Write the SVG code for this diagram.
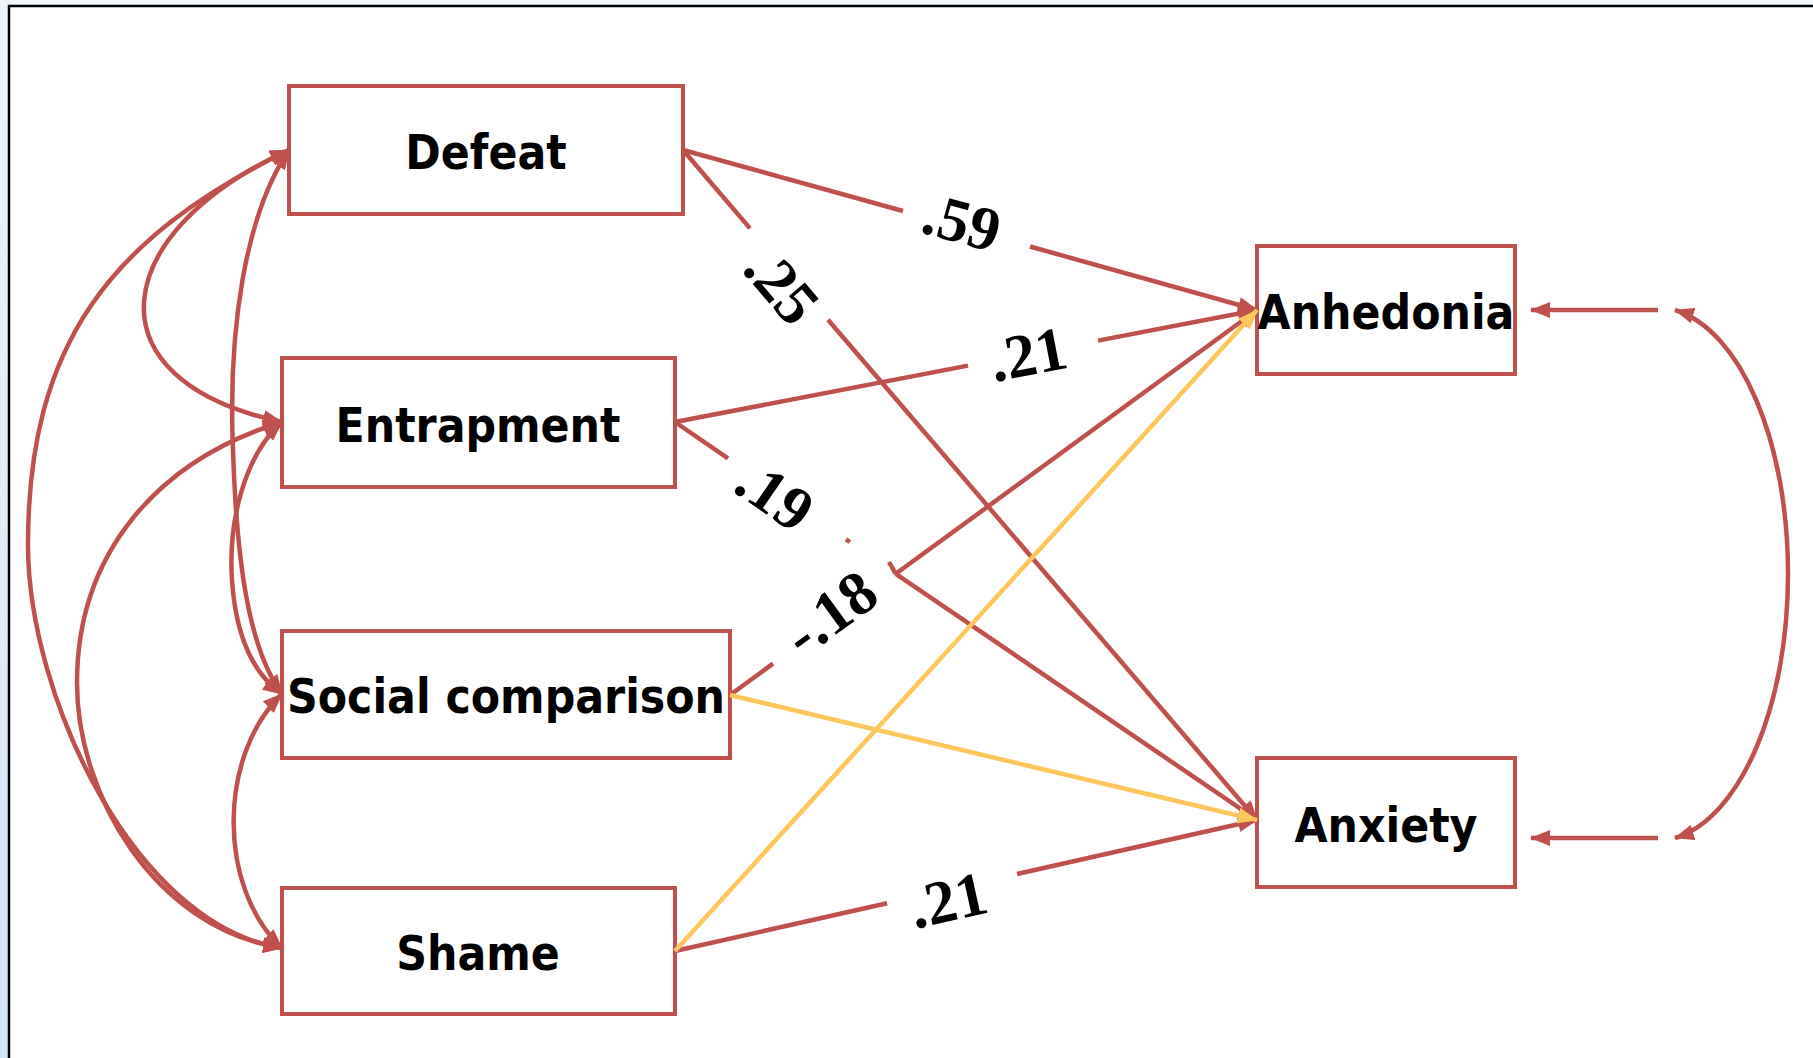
<svg xmlns="http://www.w3.org/2000/svg" width="1813" height="1058" viewBox="0 0 1813 1058">
<defs>
<linearGradient id="bgL" x1="0" y1="0" x2="0" y2="1"><stop offset="0" stop-color="#EEF5FC"/><stop offset="1" stop-color="#D2E3F4"/></linearGradient>
<marker id="ar" viewBox="0 0 20 16" refX="19" refY="8" markerWidth="20" markerHeight="16" markerUnits="userSpaceOnUse" orient="auto-start-reverse"><path d="M0,0 L20,8 L0,16 z" fill="#C0504D"/></marker>
<marker id="ay" viewBox="0 0 20 16" refX="19" refY="8" markerWidth="20" markerHeight="16" markerUnits="userSpaceOnUse" orient="auto-start-reverse"><path d="M0,0 L20,8 L0,16 z" fill="#FFC65C"/></marker>
</defs>
<style>
.box{fill:#fff;stroke:#C0504D;stroke-width:4}
.nl{font-family:'DejaVu Sans Condensed','DejaVu Sans',sans-serif;font-stretch:condensed;font-weight:bold;font-size:47.5px;fill:#000;text-anchor:middle}
.c{fill:none;stroke:#C0504D;stroke-width:4.5}
.y{fill:none;stroke:#FFC65C;stroke-width:4.5}
.lb{font-family:'Liberation Serif','Times New Roman',serif;font-weight:bold;font-size:62px;text-anchor:middle;fill:#000}
</style>
<rect x="0" y="0" width="1813" height="1058" fill="#fff"/>
<rect x="0" y="0" width="9" height="1058" fill="url(#bgL)"/>
<rect x="0" y="0" width="1813" height="6" fill="#F1F6FB"/>
<path d="M9,1058 V6 H1813" fill="none" stroke="#000" stroke-width="2.5"/>

<g id="nodes">
<g id="defeat"><rect class="box" x="289" y="86" width="394" height="128"/><text class="nl" x="486" y="169">Defeat</text></g>
<g id="entrapment"><rect class="box" x="282" y="358" width="393" height="129"/><text class="nl" x="478" y="442">Entrapment</text></g>
<g id="social"><rect class="box" x="282" y="631" width="448" height="127"/><text class="nl" x="506" y="713">Social comparison</text></g>
<g id="shame"><rect class="box" x="282" y="888" width="393" height="126"/><text class="nl" x="478" y="970">Shame</text></g>
<g id="anhedonia"><rect class="box" x="1257" y="246" width="258" height="128"/><text class="nl" x="1386" y="329">Anhedonia</text></g>
<g id="anxiety"><rect class="box" x="1257" y="758" width="258" height="129"/><text class="nl" x="1386" y="842">Anxiety</text></g>
</g>

<g id="connectors">
<path class="c" marker-start="url(#ar)" marker-end="url(#ar)" d="M289,150 C110,231 84,380 282,422"/>
<path class="c" marker-start="url(#ar)" marker-end="url(#ar)" d="M289,150 C109,238 28,345 28,545 C28,695 134,925 282,948"/>
<path class="c" marker-start="url(#ar)" marker-end="url(#ar)" d="M282,422 C158,460 77,553 77,683 C77,793 153,928 282,948"/>
<path class="c" marker-start="url(#ar)" marker-end="url(#ar)" d="M289,150 C245,215 228,330 233,450 C237,570 250,650 282,694"/>
<path class="c" marker-start="url(#ar)" marker-end="url(#ar)" d="M282,422 C245,455 228,520 232,580 C236,640 255,675 282,694"/>
<path class="c" marker-start="url(#ar)" marker-end="url(#ar)" d="M282,694 C218,755 217,888 282,948"/>

<path class="c" d="M683,150 L903,211"/>
<path class="c" marker-end="url(#ar)" d="M1030,246.5 L1257,310"/>
<path class="c" d="M683,150 L750,228.4"/>
<path class="c" marker-end="url(#ar)" d="M828,319.8 L1257,820"/>
<path class="c" d="M675,422 L968,365.6"/>
<path class="c" marker-end="url(#ar)" d="M1098,340.6 L1257,310"/>
<path class="c" d="M675,422 L728,458.4"/>
<path class="c" d="M846,539.3 L850,542"/>
<path class="c" marker-end="url(#ar)" d="M895.8,573.8 L1257,820"/>
<path class="c" d="M730,695 L773,663.6"/>
<path class="c" marker-end="url(#ar)" d="M895.8,573.8 L1257,310"/>
<path class="c" d="M889,562 L895.8,573.8"/>
<path class="c" d="M675,951 L887,903.3"/>
<path class="c" marker-end="url(#ar)" d="M1017,874 L1257,820"/>

<path class="y" marker-end="url(#ay)" d="M730,695 L1257,820"/>
<path class="y" marker-end="url(#ay)" d="M675,951 L1257,310"/>

<path class="c" marker-end="url(#ar)" d="M1658,310 L1531,310"/>
<path class="c" marker-end="url(#ar)" d="M1658,838 L1531,838"/>
<path class="c" marker-start="url(#ar)" marker-end="url(#ar)" d="M1675,310 C1740,330 1788,440 1788,574 C1788,708 1740,818 1675,838"/>

<text class="lb" transform="translate(962,222) rotate(15.6)" x="0" y="21">.59</text>
<text class="lb" transform="translate(782,286) rotate(49.6)" x="0" y="21">.25</text>
<text class="lb" transform="translate(1028,354) rotate(-10.9)" x="0" y="21">.21</text>
<text class="lb" transform="translate(775,495) rotate(34.6)" x="0" y="21">.19</text>
<text class="lb" transform="translate(830,613) rotate(-36)" x="0" y="21">-.18</text>
<text class="lb" transform="translate(948,900) rotate(-12.6)" x="0" y="21">.21</text>
</g>
</svg>
